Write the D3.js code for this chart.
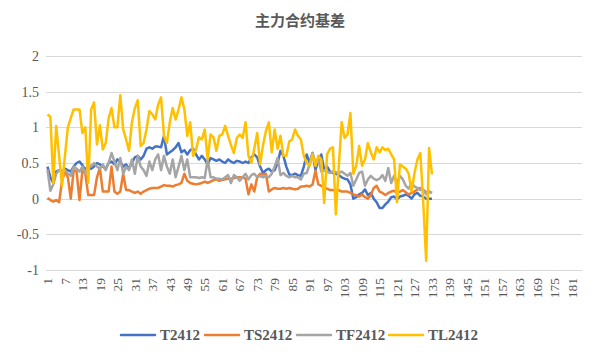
<!DOCTYPE html>
<html>
<head>
<meta charset="utf-8">
<script src="https://cdn.jsdelivr.net/npm/d3@7/dist/d3.min.js"></script>
<style>
	body { margin: 0; background: #fff; }
	svg { display: block; }
</style>
</head>
<body>
<svg id="chart" width="600" height="360"></svg>
<script>
// category axis 1..184, labels every 6th
const categories = d3.range(1, 185);
const yTicks = [-1, -0.5, 0, 0.5, 1, 1.5, 2];

const T2412 = [
	0.45, 0.3, 0.22, 0.38, 0.4, 0.38, 0.42, 0.4, 0.38, 0.45,
	0.5, 0.52, 0.47, 0.4, 0.47, 0.42, 0.45, 0.5, 0.48, 0.45,
	0.42, 0.5, 0.52, 0.48, 0.55, 0.52, 0.45, 0.48, 0.42, 0.5,
	0.58, 0.6, 0.55, 0.6, 0.7, 0.72, 0.7, 0.73, 0.73, 0.72,
	0.88, 0.62, 0.65, 0.68, 0.72, 0.78, 0.65, 0.68, 0.62, 0.68,
	0.7, 0.62, 0.55, 0.6, 0.55, 0.48, 0.57, 0.55, 0.53, 0.55,
	0.52, 0.5, 0.55, 0.52, 0.5, 0.53, 0.52, 0.5, 0.52, 0.5,
	0.58, 0.62, 0.58, 0.45, 0.36, 0.4, 0.42, 0.38, 0.4, 0.5,
	0.67, 0.6, 0.45, 0.34, 0.33, 0.35, 0.33, 0.32, 0.45, 0.62,
	0.5, 0.64, 0.4, 0.55, 0.62, 0.4, 0.45, 0.38, 0.36, 0.35,
	0.33, 0.3, 0.28, 0.27, 0.2, 0.0, 0.02, 0.06, 0.08, 0.13,
	0.05, 0.08, 0.0, -0.05, -0.13, -0.13, -0.08, -0.04, 0.02, 0.03,
	-0.01, 0.03, 0.04, 0.06, 0.04, 0.0, 0.06, 0.08, 0.04, 0.03,
	0.0, 0.0, 0.0
];

const TS2412 = [
	0.01, -0.02, -0.04, -0.02, -0.05, 0.25, 0.38, 0.3, 0.0, 0.4,
	0.38, -0.02, 0.4, 0.35, 0.05, 0.05, 0.05, 0.3, 0.43, 0.1,
	0.1, 0.1, 0.45, 0.1, 0.07, 0.1, 0.35, 0.12, 0.12, 0.1,
	0.08, 0.1, 0.07, 0.1, 0.12, 0.14, 0.15, 0.15, 0.15, 0.17,
	0.19, 0.18, 0.18, 0.17, 0.19, 0.2, 0.22, 0.35, 0.25, 0.22,
	0.21, 0.2, 0.21, 0.22, 0.24, 0.22, 0.24, 0.26, 0.27, 0.25,
	0.26, 0.27, 0.28, 0.28, 0.29, 0.3, 0.3, 0.3, 0.28, 0.06,
	0.2, 0.1, 0.3, 0.35, 0.34, 0.35, 0.1, 0.13, 0.15, 0.14,
	0.14, 0.15, 0.14, 0.15, 0.14, 0.13, 0.14, 0.17, 0.17, 0.18,
	0.17, 0.2, 0.39, 0.2, 0.18, 0.15, 0.14, 0.12, 0.12, 0.11,
	0.12, 0.1, 0.1, 0.1, 0.08, 0.06, 0.05, 0.03, 0.06, 0.02,
	0.0, 0.05, 0.15, 0.18, 0.1, 0.08, 0.05, 0.08, 0.1, 0.11,
	0.08, 0.1, 0.12, 0.09, 0.06, 0.08, 0.1, 0.13, 0.15, 0.12,
	0.09, 0.1, 0.08
];

const TF2412 = [
	0.41, 0.11, 0.2, 0.35, 0.4, 0.38, 0.4, 0.35, 0.32, 0.45,
	0.42, 0.38, 0.45, 0.35, 0.48, 0.45, 0.5, 0.45, 0.42, 0.48,
	0.4, 0.5, 0.64, 0.52, 0.4, 0.57, 0.35, 0.45, 0.4, 0.55,
	0.35, 0.6, 0.45, 0.4, 0.32, 0.52, 0.4, 0.55, 0.62, 0.4,
	0.6, 0.45, 0.35, 0.55, 0.3, 0.45, 0.6, 0.4, 0.55, 0.3,
	0.3, 0.3, 0.29, 0.3, 0.29, 0.55, 0.3, 0.3, 0.28, 0.28,
	0.27, 0.3, 0.33, 0.22, 0.33, 0.3, 0.25, 0.3, 0.35, 0.27,
	0.33, 0.35, 0.3, 0.32, 0.3, 0.32, 0.3, 0.35, 0.45, 0.57,
	0.33, 0.36, 0.32, 0.3, 0.32, 0.3, 0.3, 0.27, 0.35, 0.36,
	0.48, 0.64, 0.5, 0.55, 0.38, 0.4, 0.38, 0.36, 0.38, 0.37,
	0.36, 0.38, 0.35, 0.32, 0.36, 0.18, 0.27, 0.36, 0.38, 0.18,
	0.27, 0.32, 0.28, 0.26, 0.28, 0.33, 0.25, 0.43, 0.22, 0.32,
	0.22, 0.32, 0.27, 0.18, 0.14, 0.22, 0.17, 0.15, 0.12, 0.13,
	0.06, 0.1, 0.08
];

const TL2412 = [
	1.18, 1.15, 0.22, 1.02, 0.6, 0.18, 0.6, 1.0, 1.13, 1.25,
	1.25, 1.25, 0.92, 1.0, 0.22, 1.25, 1.35, 0.76, 1.03, 0.69,
	0.78, 1.13, 1.27, 1.0, 1.0, 1.45, 0.97, 0.83, 0.67, 1.07,
	1.27, 1.38, 0.74, 0.78, 0.97, 1.23, 1.18, 1.11, 1.32, 1.42,
	0.88, 0.78, 1.07, 1.27, 1.11, 1.25, 1.42, 1.25, 0.88, 1.07,
	0.6, 0.69, 0.86, 0.83, 0.97, 0.55, 0.9, 0.86, 0.67, 0.88,
	0.9, 1.02, 0.88, 0.75, 0.64, 0.85, 0.9, 0.85, 1.07, 0.6,
	0.5, 0.7, 0.92, 0.48, 0.75, 0.95, 1.07, 0.65, 0.97, 0.7,
	0.88, 0.6, 0.6, 0.8, 0.83, 0.97, 0.88, 0.83, 0.6, 0.5,
	0.46, 0.62, 0.46, 0.6, 0.55, -0.06, 0.62, 0.7, 0.72, -0.22,
	0.45, 1.07, 0.85, 0.9, 1.2, 0.35, 0.46, 0.74, 0.46, 0.55,
	0.78, 0.65, 0.55, 0.72, 0.65, 0.72, 0.68, 0.7, 0.62, 0.55,
	-0.05, 0.48, 0.45, 0.42, 0.35, 0.1, 0.36, 0.55, 0.64, -0.05,
	-0.87, 0.71, 0.34
];

const seriesNames = ['T2412', 'TS2412', 'TF2412', 'TL2412'];
const seriesColors = ['#4472C4', '#ED7D31', '#A5A5A5', '#FFC000'];
const seriesValues = [T2412, TS2412, TF2412, TL2412];

const plot = { left: 46, right: 582, top: 56, bottom: 270 };
const textColor = '#595959';
const serif = '"Liberation Serif", "DejaVu Serif", serif';

const svg = d3.select('#chart');

const x = d3.scaleBand()
	.domain(categories)
	.range([plot.left, plot.right])
	.padding(0);

const y = d3.scaleLinear()
	.domain([-1, 2])
	.range([plot.bottom, plot.top]);

const cx = k => x(k) + x.bandwidth() / 2;

// title
svg.append('text')
	.attr('x', 300)
	.attr('y', 26)
	.attr('text-anchor', 'middle')
	.style('font-family', '"Noto Sans CJK SC", sans-serif')
	.style('font-weight', 'bold')
	.style('font-size', '15px')
	.style('fill', textColor)
	.text('主力合约基差');

// grid
svg.append('g')
	.selectAll('line')
	.data(yTicks)
	.join('line')
	.attr('x1', plot.left)
	.attr('x2', plot.right)
	.attr('y1', d => Math.round(y(d)) + 0.5)
	.attr('y2', d => Math.round(y(d)) + 0.5)
	.style('stroke', '#d9d9d9')
	.style('stroke-width', 1);

// y labels
svg.append('g')
	.selectAll('text')
	.data(yTicks)
	.join('text')
	.attr('x', 39)
	.attr('y', d => y(d))
	.attr('dy', '0.35em')
	.attr('text-anchor', 'end')
	.style('font-family', serif)
	.style('font-size', '14px')
	.style('fill', textColor)
	.text(d => d);

// x labels, rotated
const xLabels = categories.filter((d, i) => i % 6 === 0);
svg.append('g')
	.selectAll('text')
	.data(xLabels)
	.join('text')
	.attr('transform', d => `translate(${cx(d)},278) rotate(-90)`)
	.attr('dy', '0.35em')
	.attr('text-anchor', 'end')
	.style('font-family', serif)
	.style('font-size', '13.5px')
	.style('fill', textColor)
	.text(d => d);

// lines
const line = d3.line()
	.x((d, i) => cx(categories[i]))
	.y(d => y(d));

svg.append('g')
	.selectAll('path')
	.data(seriesValues)
	.join('path')
	.attr('d', line)
	.style('fill', 'none')
	.style('stroke', (d, i) => seriesColors[i])
	.style('stroke-width', 2.5)
	.style('stroke-linejoin', 'round');

// legend
const legendX = [121, 205, 297, 389];
const legend = svg.append('g')
	.selectAll('g')
	.data(seriesNames)
	.join('g')
	.attr('transform', (d, i) => `translate(${legendX[i]},335)`);

legend.append('line')
	.attr('x1', 0)
	.attr('x2', 34)
	.style('stroke', (d, i) => seriesColors[i])
	.style('stroke-width', 2.5)
	.style('stroke-linecap', 'round');

legend.append('text')
	.attr('x', 39)
	.attr('dy', '0.35em')
	.style('font-family', serif)
	.style('font-weight', 'bold')
	.style('font-size', '15px')
	.style('fill', textColor)
	.text(d => d);
</script>
</body>
</html>
